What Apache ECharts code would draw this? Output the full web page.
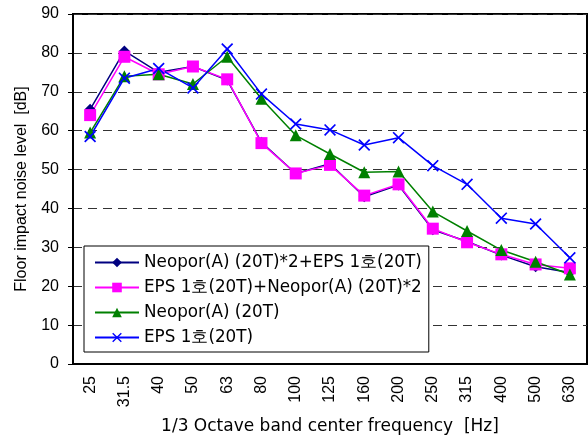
<!DOCTYPE html>
<html>
<head>
<meta charset="utf-8">
<script src="https://cdn.jsdelivr.net/npm/echarts@6/dist/echarts.min.js"></script>
<style>
  html, body { margin: 0; padding: 0; background: #fff; }
  #chart { width: 588px; height: 438px; }
</style>
</head>
<body>
<div id="chart"></div>
<script>
// 1/3 octave band centre frequencies [Hz]
var freqs = ["25", "31.5", "40", "50", "63", "80", "100", "125", "160", "200", "250", "315", "400", "500", "630"];

var seriesNames = [
  "Neopor(A) (20T)*2+EPS 1호(20T)",
  "EPS 1호(20T)+Neopor(A) (20T)*2",
  "Neopor(A) (20T)",
  "EPS 1호(20T)"
];

// floor impact noise level [dB]
var neoporX2Eps = [65.5, 80.5, 75, 76.5, 73, 57, 49, 51.5, 43, 46, 34.5, 31.5, 28, 25, 23.5];
var epsNeoporX2 = [64, 79, 74.5, 76.5, 73.2, 56.8, 49, 51.2, 43.3, 46.2, 34.8, 31.3, 28.2, 25.6, 24.6];
var neopor = [59.5, 74, 74.5, 72, 79, 68.2, 58.8, 54, 49.3, 49.5, 39.2, 34.2, 29.3, 26.3, 23];
var eps = [58.5, 73.5, 76, 71, 81, 69.4, 61.7, 60.2, 56.3, 58.2, 51, 46.2, 37.5, 36, 27.3];

var wideFont = "DejaVu Sans";
var numFont = "Liberation Sans";
var xMark = "path://M0,1L1,0L5,4L9,0L10,1L6,5L10,9L9,10L5,6L1,10L0,9L4,5Z";

var myChart = echarts.init(document.getElementById("chart"));

function mkSeries(name, data, color, symbol, size) {
  return {
    name: name,
    type: "line",
    data: data,
    symbol: symbol,
    symbolSize: size,
    showAllSymbol: true,
    lineStyle: { color: color, width: 1.5 },
    itemStyle: { color: color },
    emphasis: { disabled: true },
    animation: false
  };
}

var option = {
  textStyle: { fontFamily: wideFont },
  grid: {
    left: 73, right: 1, top: 14, bottom: 74,
    outerBoundsMode: "none",
    containLabel: false,
    show: true, borderColor: "#000", borderWidth: 2, backgroundColor: "#fff"
  },
  legend: {
    orient: "vertical",
    left: 84, top: 246,
    padding: [8, 7, 6, 10],
    itemGap: 8,
    itemWidth: 44,
    itemHeight: 12,
    borderColor: "#000",
    borderWidth: 1,
    backgroundColor: "#fff",
    textStyle: { fontSize: 16.8, color: "#000", fontFamily: wideFont },
    data: seriesNames
  },
  xAxis: {
    type: "category",
    data: freqs,
    boundaryGap: true,
    name: "1/3 Octave band center frequency  [Hz]",
    nameLocation: "middle",
    nameGap: 54,
    nameTextStyle: { fontSize: 17, color: "#000", fontFamily: wideFont },
    axisLine: { lineStyle: { color: "#000", width: 2 } },
    axisTick: { inside: true, length: 7, lineStyle: { color: "#000" } },
    axisLabel: { rotate: 90, fontSize: 16, color: "#000", margin: 12, fontFamily: numFont },
    splitLine: { show: false }
  },
  yAxis: {
    type: "value",
    min: 0, max: 90, interval: 10,
    name: "Floor impact noise level  [dB]",
    nameLocation: "middle",
    nameGap: 43,
    nameTextStyle: { fontSize: 16, color: "#000", fontFamily: numFont },
    axisLine: { show: true, lineStyle: { color: "#000", width: 2 } },
    axisTick: { show: true, length: 5, lineStyle: { color: "#000" } },
    axisLabel: { fontSize: 16, color: "#000", margin: 14, fontFamily: numFont },
    splitLine: { show: true, lineStyle: { color: "#333", type: [9, 6], width: 1 } }
  },
  series: [
    mkSeries(seriesNames[0], neoporX2Eps, "#000080", "diamond", 11),
    mkSeries(seriesNames[1], epsNeoporX2, "#ff00ff", "rect", 12),
    mkSeries(seriesNames[2], neopor, "#008000", "triangle", 12),
    mkSeries(seriesNames[3], eps, "#0000ff", xMark, 12)
  ]
};
myChart.setOption(option);
</script>
</body>
</html>
